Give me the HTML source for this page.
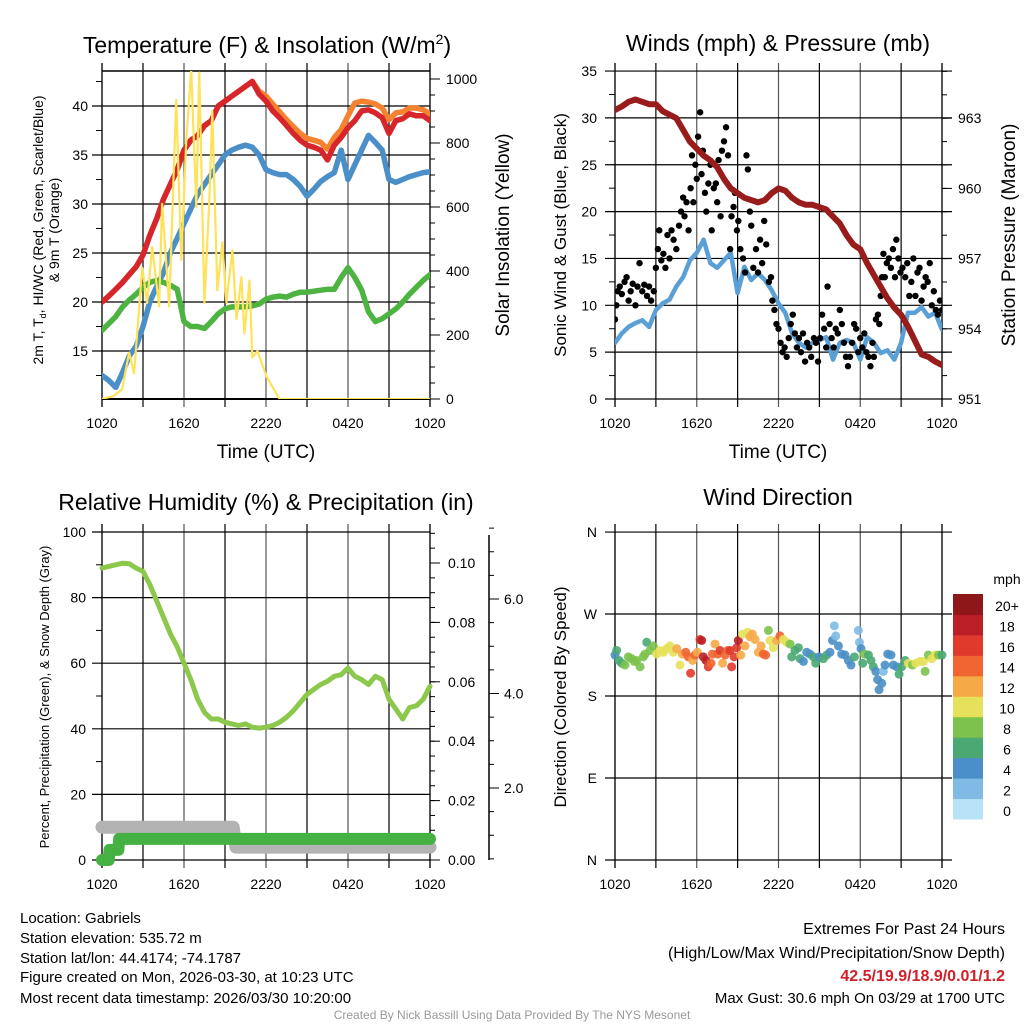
<!DOCTYPE html>
<html><head><meta charset="utf-8">
<style>
body{margin:0;background:#fff;width:1024px;height:1024px;overflow:hidden;font-family:"Liberation Sans",sans-serif;}
svg text{font-family:"Liberation Sans",sans-serif;}
</style></head>
<body>
<svg id="chart" width="1024" height="1024" viewBox="0 0 1024 1024" xmlns="http://www.w3.org/2000/svg">
<g id="g1"></g>
<g id="g2"></g>
<g id="g3"></g>
<g id="g4"></g>
<g id="txt">
<text x="267" y="53" font-size="23" text-anchor="middle">Temperature (F) &amp; Insolation (W/m<tspan font-size="14" dy="-9">2</tspan><tspan dy="9">)</tspan></text>
<text x="778" y="51" font-size="23" text-anchor="middle">Winds (mph) &amp; Pressure (mb)</text>
<text x="266" y="510" font-size="23" text-anchor="middle">Relative Humidity (%) &amp; Precipitation (in)</text>
<text x="778" y="505" font-size="23" text-anchor="middle">Wind Direction</text>
<text x="266" y="458" font-size="19" text-anchor="middle">Time (UTC)</text>
<text x="778" y="458" font-size="19" text-anchor="middle">Time (UTC)</text>
<text transform="translate(43,230) rotate(-90)" font-size="14" text-anchor="middle">2m T, T<tspan font-size="9" dy="3">d</tspan><tspan dy="-3">, HI/WC (Red, Green, Scarlet/Blue)</tspan></text>
<text transform="translate(59,230) rotate(-90)" font-size="14" text-anchor="middle">&amp; 9m T (Orange)</text>
<text transform="translate(509,235) rotate(-90)" font-size="19" text-anchor="middle">Solar Insolation (Yellow)</text>
<text transform="translate(566,235) rotate(-90)" font-size="17" text-anchor="middle">Sonic Wind &amp; Gust (Blue, Black)</text>
<text transform="translate(1015,235) rotate(-90)" font-size="19" text-anchor="middle">Station Pressure (Maroon)</text>
<text transform="translate(49,697) rotate(-90)" font-size="13" text-anchor="middle">Percent, Precipitation (Green), &amp; Snow Depth (Gray)</text>
<text transform="translate(566,697) rotate(-90)" font-size="17" text-anchor="middle">Direction (Colored By Speed)</text>
<text x="20" y="923" font-size="15">Location: Gabriels</text>
<text x="20" y="943" font-size="15">Station elevation: 535.72 m</text>
<text x="20" y="963" font-size="15">Station lat/lon: 44.4174; -74.1787</text>
<text x="20" y="982" font-size="15">Figure created on Mon, 2026-03-30, at 10:23 UTC</text>
<text x="20" y="1003" font-size="15">Most recent data timestamp: 2026/03/30 10:20:00</text>
<text x="1005" y="934" font-size="16" text-anchor="end">Extremes For Past 24 Hours</text>
<text x="1005" y="958" font-size="16" text-anchor="end">(High/Low/Max Wind/Precipitation/Snow Depth)</text>
<text x="1005" y="981" font-size="16" font-weight="bold" fill="#d0202a" text-anchor="end">42.5/19.9/18.9/0.01/1.2</text>
<text x="1005" y="1003" font-size="15" text-anchor="end">Max Gust: 30.6 mph On 03/29 at 1700 UTC</text>
<text x="512" y="1019" font-size="12" fill="#999" text-anchor="middle">Created By Nick Bassill Using Data Provided By The NYS Mesonet</text>
<text x="1007" y="584" font-size="14" text-anchor="middle">mph</text>
</g>
</svg>
<script>
// ---- data (half-hourly, 49 points from 1020 UTC to 1020 UTC) ----
const timeLabels = ["1020","1620","2220","0420","1020"];
const tempRed = [20,20.6,21.3,22,22.8,23.6,24.8,26.8,28.5,30.5,32,33.5,35.5,36.5,37,38,38.5,40,40.5,41,41.5,42,42.5,41.2,40.5,39.5,38.8,38,37.2,36.5,36,35.8,35.5,34.5,36,36.8,37.8,38.5,39.5,39.6,39.3,38.8,37.2,38.5,38.7,39.2,39,39,38.5];
const temp9m = [20,20.6,21.3,22,22.8,23.6,24.8,26.8,28.5,30.5,32,33.5,35.5,36.5,37,38,38.5,40,40.5,41,41.5,42,42.5,41.5,41,40.2,39.4,38.6,37.9,37.2,36.7,36.5,36.3,35.6,36.8,37.6,39,40.3,40.5,40.4,40.2,39.8,38.6,39.3,39.4,39.8,39.8,39.6,39.2];
const dewBlue = [12.5,12,11.3,12.8,14.5,15.5,17.5,20,21.6,23,25,26.5,28,29.5,31,32,33,34,35,35.5,35.8,36,35.8,35,33.5,33.2,33,33,32.5,31.8,30.8,31.5,32.3,32.8,33.2,35.5,32.5,34,35.5,37,36.3,35.5,32.5,32.2,32.5,32.8,33,33.2,33.3];
const hiwcGreen = [17.1,17.8,18.5,19.5,20.2,20.8,21.5,22,22.2,22,21.7,21.3,18,17.5,17.5,17.3,18,18.8,19.3,19.5,19.5,19.5,19.6,19.8,20.3,20.5,20.6,20.5,20.8,21,21,21.1,21.2,21.3,21.3,22.5,23.5,22.5,21.2,19,18,18.3,18.8,19.3,20,20.8,21.5,22.2,22.8];
const insolHours = [0,0.88,1.47,1.98,2.35,2.94,3.3,3.67,4.18,4.4,4.92,5.43,5.8,6.17,6.53,6.9,7.12,7.49,7.85,8.07,8.44,8.81,9.1,9.54,9.84,10.2,10.42,10.79,11.0,11.38,12.04,12.99,24];
const insolValues = [0,10,30,145,80,410,300,475,290,610,290,935,435,810,1030,600,1020,300,620,900,340,490,300,465,250,380,205,370,130,150,70,0,0];
const windBlue = [6,7,7.7,8.1,8.4,7.7,9.5,10.2,10.6,12,13,14.8,15.6,17,14.5,14,14.8,15.6,11.3,14.1,12.7,13.4,12.7,11.6,10.2,9.2,7,6,5.5,6,6.3,6.6,4.2,6,6.3,6,4.2,6.6,6,4.9,5.2,4.2,6,9.2,9.2,9.8,8.8,9.2,7.4];
const pressure = [963.35,963.5,963.7,963.8,963.7,963.6,963.6,963.3,963.15,963,962.5,962,961.7,961.4,961.2,960.9,960.4,960,959.8,959.6,959.5,959.4,959.5,959.8,960,959.9,959.6,959.4,959.3,959.3,959.2,959.1,958.8,958.5,958,957.6,957.4,956.8,956.3,955.8,955.3,954.9,954.6,954.1,953.5,952.9,952.8,952.6,952.45];
const gustHours = [0,0.1,0.2,0.35,0.5,0.7,0.85,1,1.15,1.3,1.5,1.65,1.8,2,2.15,2.35,2.5,2.65,2.85,3,3.15,3.25,3.4,3.55,3.7,3.85,4,4.15,4.3,4.5,4.7,4.85,5,5.1,5.25,5.4,5.55,5.65,5.75,5.9,6,6.1,6.25,6.35,6.45,6.6,6.7,6.85,7,7.1,7.25,7.4,7.5,7.6,7.75,7.85,8,8.15,8.3,8.45,8.55,8.7,8.8,8.95,9.05,9.2,9.4,9.55,9.65,9.75,9.9,10,10.15,10.35,10.5,10.65,10.8,10.95,11.1,11.3,11.45,11.55,11.7,11.85,12,12.15,12.3,12.45,12.6,12.75,12.9,13.05,13.2,13.35,13.5,13.65,13.8,13.95,14.1,14.25,14.4,14.6,14.75,14.9,15.05,15.2,15.35,15.5,15.6,15.75,15.9,16.05,16.2,16.35,16.5,16.65,16.8,16.95,17.1,17.25,17.4,17.55,17.7,17.85,18,18.15,18.3,18.45,18.6,18.75,18.9,19,19.15,19.3,19.4,19.5,19.6,19.7,19.8,19.95,20.1,20.25,20.4,20.55,20.65,20.8,20.95,21.1,21.3,21.45,21.6,21.75,21.9,22.05,22.2,22.35,22.5,22.65,22.8,22.95,23.1,23.25,23.4,23.55,23.7,23.85,24];
const gustValues = [8.5,10,11.5,12,11.2,12.5,13,10.5,11.5,12.3,10,12,14.5,11.5,12.2,11,12,10.5,11.5,14,16,18,14.8,15.5,14,17.5,15,18,17,16,18.5,20,21.5,19.5,21,18,22.5,26,21,25,23.5,28,30.6,24,26.5,22,20,23,25,18,22.5,23,21,25.5,19.5,26.5,27.5,29,26,16,19.5,20.5,22,18,19,16,15,13.5,26,24.5,20,18.5,14,16,13.5,17,14.5,19,16.5,12.5,13,10.5,9.5,8,7.5,6,5,5.5,4.5,6.5,8,9,7,5.5,6.5,5,7,4,6,5.5,4.5,6.5,6,4,6.5,9,7.5,5.5,12,8,6.5,5.5,7.5,7,9.5,8,6,4.5,3.5,4.5,6,8,7.5,5,6.5,5.5,7,5,4.5,3.5,6,4.5,8.5,9,8,11,13,15.5,13,14.5,15,14,16,13,17,15,13.5,14,13,14.5,11,12.5,15,11,13.5,14,10.5,12,13,12.5,14.5,10,11.5,9.5,9,10.5,9.5];
const rhValues = [89,89.5,90,90.5,90.3,89,88,84,79,74,69,65,60,55,49,45,43,43,42,41.5,41,41.5,40.5,40.2,40.5,41,42,43.5,45.5,48,50.5,52,53.5,54.5,56,56.5,58.5,56,55,53.5,56,55,49,46,43,46.5,47,49,53];
const precipHours = [0,0.5,0.55,1.2,1.25,24];
const precipValues = [0,0,0.0034,0.0034,0.0071,0.0071];
const snowHours = [0,9.6,9.8,24];
const snowValues = [1.17,1.17,0.75,0.75];
const dirHours = [0,0.12,0.29,0.49,0.73,0.98,1.22,1.42,1.59,1.84,2.08,2.2,2.33,2.57,2.81,3.06,3.3,3.55,3.79,4.04,4.28,4.53,4.77,4.94,5.19,5.38,5.55,5.7,5.87,6.04,6.24,6.36,6.48,6.68,6.85,7.05,7.15,7.34,7.54,7.71,7.9,8.08,8.27,8.44,8.56,8.74,8.93,9.05,9.23,9.37,9.54,9.74,9.91,10.08,10.28,10.52,10.72,10.89,11.06,11.26,11.38,11.62,11.87,12.11,12.36,12.6,12.85,12.97,13.21,13.46,13.58,13.83,14.07,14.31,14.56,14.73,14.98,15.29,15.54,15.78,15.96,16.1,16.2,16.4,16.64,16.88,17.13,17.32,17.57,17.86,17.94,18.06,18.18,18.3,18.6,18.79,18.96,19.14,19.28,19.38,19.58,19.7,19.82,20.02,20.26,20.43,20.68,20.85,21.04,21.29,21.53,21.83,22.07,22.39,22.64,22.76,23.0,23.25,23.49,23.74,24];
const dirValues = [225,230,219,216,214,223,221,218,219,212,223,226,239,230,235,226,230,228,232,235,228,232,214,226,228,223,205,219,225,228,242,241,223,219,212,216,226,237,226,230,216,225,230,230,212,223,233,241,225,248,235,250,245,248,242,228,235,226,225,252,241,233,241,246,242,239,237,223,230,233,221,218,228,226,223,216,223,221,225,228,241,257,246,235,226,225,219,214,223,252,239,232,216,226,225,219,212,207,198,187,194,207,214,226,225,214,212,204,212,219,216,214,216,218,218,207,225,221,225,225,225];
const dirSpeeds = [5,7,7,6,9,9,9,8,9,8,9,8,7,9,9,11,10,11,11,10,11,12,11,13,15,14,17,12,14,13,17,18,18,19,16,15,14,12,15,16,13,15,15,17,17,17,17,18,13,11,13,11,12,13,12,13,12,14,14,8,10,11,13,14,11,10,8,7,7,7,6,5,5,5,7,7,5,7,7,5,4,3,3,4,5,4,5,5,7,3,3,4,7,8,7,7,7,5,5,5,5,3,5,5,5,5,5,7,7,7,11,9,11,10,11,9,9,11,11,9,7];
const speedColors = ["#b7e2f7","#7fbbe4","#4a8fc7","#4aa873","#7cc24c","#e6e15a","#f6aa47","#f06530","#e03a2d","#bb1e26","#8e1719"];
const speedLabels = ["0","2","4","6","8","10","12","14","16","18","20+"];

const NS="http://www.w3.org/2000/svg";
function mk(parent,tag,attrs){const e=document.createElementNS(NS,tag);for(const k in attrs)e.setAttribute(k,attrs[k]);parent.appendChild(e);return e;}
function frame(g,L,R,T,B){
  for(let i=0;i<=8;i++){const x=L+(R-L)*i/8;
    const ln=mk(g,'line',{x1:x,x2:x,y1:T-8,y2:B+8,stroke:i%2?'#000':'#555','stroke-width':i==0||i==8?2:1.2});
    }
  timeLabels.forEach((t,i)=>{const x=L+(R-L)*i/4;const tx=mk(g,'text',{x:x,y:B+29,'font-size':14,'text-anchor':'middle'});tx.textContent=t;
    });
}
function hline(g,x1,x2,y,w,c){const l=mk(g,'line',{x1:x1,x2:x2,y1:y,y2:y,stroke:c||'#000','stroke-width':w||1.2});return l;}
function ticks(g,xAxis,dir,y0,y1,vmin,vmax,step,len){
  for(let v=vmin;v<=vmax+1e-9;v+=step){const y=y0+(y1-y0)*(v-vmin)/(vmax-vmin);
    const t=mk(g,'line',{x1:xAxis,x2:xAxis+dir*len,y1:y,y2:y,stroke:'#000','stroke-width':1});
    }
}
function label(g,x,y,s,anchor,size){const t=mk(g,'text',{x:x,y:y+5,'font-size':size||14,'text-anchor':anchor});t.textContent=s;
  }
function poly(g,xs,ys,color,w,name){const p=mk(g,'polyline',{points:xs.map((x,i)=>x.toFixed(1)+','+ys[i].toFixed(1)).join(' '),fill:'none',stroke:color,'stroke-width':w,'stroke-linejoin':'round','stroke-linecap':'round'});
  return p;}
const idx=n=>Array.from({length:n},(_,i)=>i*0.5);

// ---- Panel 1 ----
(function(){const g=document.getElementById('g1');const L=102,R=430,T=71,B=399;
  const xS=h=>L+(R-L)*h/24; const yT=v=>351-(v-15)*9.8; const yI=v=>B-v*0.32;
  frame(g,L,R,T,B);
  [15,20,25,30,35,40].forEach(v=>{hline(g,L-10,R,yT(v));label(g,88,yT(v),String(v),'end');});
  hline(g,L,R,T,1.5);hline(g,L,R,B,2);
  for(let v=12.5;v<44;v+=5){const t=mk(g,'line',{x1:L,x2:L-6,y1:yT(v),y2:yT(v),stroke:'#000'});}
  ticks(g,R,1,yI(0),yI(1000),0,1000,50,5);ticks(g,R,1,yI(0),yI(1000),0,1000,200,10);
  [0,200,400,600,800,1000].forEach(v=>label(g,446,yI(v),String(v),'start'));
  const cp=mk(g,'clipPath',{id:'c1'});mk(cp,'rect',{x:L,y:T,width:R-L,height:B-T});
  const d=mk(g,'g',{'clip-path':'url(#c1)'});
  const hs=idx(49);
  poly(d,hs.map(xS),temp9m.map(yT),'#f4822f',5.5,'line-9m-temp');
  poly(d,hs.map(xS),tempRed.map(yT),'#d7262b',5.5,'line-2m-temp');
  poly(d,hs.map(xS),dewBlue.map(yT),'#4a8fc7',5.5,'line-dewpoint');
  poly(d,hs.map(xS),hiwcGreen.map(yT),'#4db442',5.5,'line-heat-index-wind-chill');
  poly(d,insolHours.map(xS),insolValues.map(yI),'#fde25a',2.2,'line-insolation');
})();

// ---- Panel 2 ----
(function(){const g=document.getElementById('g2');const L=615,R=942,T=71,B=399;
  const xS=h=>L+(R-L)*h/24; const yW=v=>B-v*9.37; const yP=p=>B-(p-951)*23.4;
  frame(g,L,R,T,B);
  for(let v=0;v<=35;v+=5){hline(g,L-10,R+10,yW(v));label(g,597,yW(v),String(v),'end');}
  for(let v=2.5;v<35;v+=5){const t=mk(g,'line',{x1:L,x2:L-6,y1:yW(v),y2:yW(v),stroke:'#000'});}
  ticks(g,R,1,yP(951),yP(965),951,965,1,5);ticks(g,R,1,yP(951),yP(963),951,963,3,10);
  [951,954,957,960,963].forEach(v=>label(g,958,yP(v),String(v),'start'));
  const cp=mk(g,'clipPath',{id:'c2'});mk(cp,'rect',{x:L,y:T,width:R-L,height:B-T});
  const d=mk(g,'g',{'clip-path':'url(#c2)'});
  const hs=idx(49);
  poly(d,hs.map(xS),windBlue.map(yW),'#5a9fd6',4.5,'line-sonic-wind');
  gustHours.forEach((h,i)=>{const c=mk(d,'circle',{cx:xS(h),cy:yW(gustValues[i]),r:3.2,fill:'#000'});
    });
  poly(d,hs.map(xS),pressure.map(yP),'#981c1c',6,'line-pressure');
})();

// ---- Panel 3 ----
(function(){const g=document.getElementById('g3');const L=102,R=430,T=532,B=860;
  const xS=h=>L+(R-L)*h/24; const yH=v=>B-v*3.28; const yPr=v=>B-v/0.02*59.4; const yS=v=>788-(v-2)*47.25;
  frame(g,L,R,T,B);
  [0,20,40,60,80,100].forEach(v=>{hline(g,L-10,R,yH(v));label(g,86,yH(v),String(v),'end');});
  for(let v=10;v<100;v+=20){const t=mk(g,'line',{x1:L,x2:L-6,y1:yH(v),y2:yH(v),stroke:'#000'});}
  ticks(g,R,1,yPr(0),yPr(0.11),0,0.11,0.005,5);ticks(g,R,1,yPr(0),yPr(0.1),0,0.1,0.02,10);
  ["0.00","0.02","0.04","0.06","0.08","0.10"].forEach((s,i)=>label(g,448,yPr(i*0.02),s,'start'));
  const ax=mk(g,'line',{x1:489,x2:489,y1:535,y2:860,stroke:'#000','stroke-width':1.5});
  ticks(g,489,1,yS(0.5),yS(7.5),0.5,7.5,0.5,5);ticks(g,489,1,yS(2),yS(6),2,6,2,10);
  ["2.0","4.0","6.0"].forEach((s,i)=>label(g,504,yS(2+2*i),s,'start'));
  const hs=idx(49);
  poly(g,hs.map(xS),rhValues.map(yH),'#8cc84b',5,'line-relative-humidity');
  poly(g,snowHours.map(xS),snowValues.map(yS),'#b3b3b3',13,'line-snow-depth');
  poly(g,precipHours.map(xS),precipValues.map(yPr),'#45b142',12,'line-precipitation');
})();

// ---- Panel 4 ----
(function(){const g=document.getElementById('g4');const L=615,R=942,T=532,B=860;
  const xS=h=>L+(R-L)*h/24; const yD=v=>B-v*0.911;
  frame(g,L,R,T,B);
  [[0,'N'],[90,'E'],[180,'S'],[270,'W'],[360,'N']].forEach(a=>{hline(g,L-10,R+10,yD(a[0]));label(g,597,yD(a[0]),a[1],'end');});
  const d=mk(g,'g',{});
  dirHours.forEach((h,i)=>{const bin=Math.min(10,Math.floor(dirSpeeds[i]/2));
    const c=mk(d,'circle',{cx:xS(h),cy:yD(dirValues[i]),r:4.5,fill:speedColors[bin],'fill-opacity':0.9});
    });
  const cb=mk(g,'g',{});
  const h=225/11;
  speedColors.forEach((col,i)=>{const y=819-(i+1)*h;
    const r=mk(cb,'rect',{x:953,y:y,width:30,height:h+0.5,fill:col});
    const t=mk(cb,'text',{x:1007,y:y+h/2+7,'font-size':14,'text-anchor':'middle'});t.textContent=speedLabels[i];
    });
})();
</script>
</body></html>
